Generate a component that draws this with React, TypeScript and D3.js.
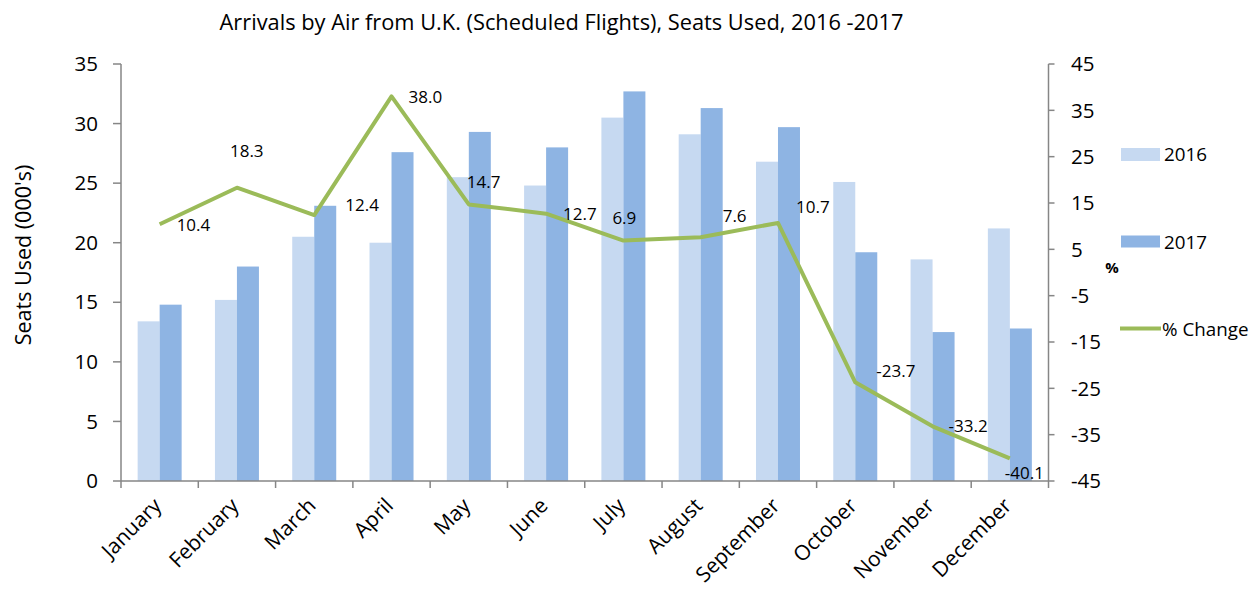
import React from "react";
import * as d3 from "d3";

const months = ["January","February","March","April","May","June","July","August","September","October","November","December"];
const seats2016 = [13.4, 15.2, 20.5, 20.0, 25.5, 24.8, 30.5, 29.1, 26.8, 25.1, 18.6, 21.2];
const seats2017 = [14.8, 18.0, 23.1, 27.6, 29.3, 28.0, 32.7, 31.3, 29.7, 19.2, 12.5, 12.8];
const pctChange = [10.4, 18.3, 12.4, 38.0, 14.7, 12.7, 6.9, 7.6, 10.7, -23.7, -33.2, -40.1];
const leftTicks = [0, 5, 10, 15, 20, 25, 30, 35];
const rightTicks = [-45, -35, -25, -15, -5, 5, 15, 25, 35, 45];
// label offsets (dx, dy) relative to each point: style only
const labelOffsets: [number, number][] = [
  [17, 1], [-7, -37], [31, -10], [17, 1], [-2, -22], [17, 0],
  [-11, -22], [22, -21], [18, -16], [21, -11], [16, 0], [-5, 15],
];

const W = 1259, H = 589;
const FONT = "'Open Sans', 'Noto Sans', sans-serif";
const C2016 = "#C6D9F1";
const C2017 = "#8EB4E3";
const CLINE = "#9BBB59";
const AXIS = "#868686";

export default function App() {
  const x0 = 121, x1 = 1048.5, yTop = 64, yBot = 481;
  const x = d3.scaleBand<string>().domain(months).range([x0, x1]);
  const bw = x.bandwidth();
  const y = d3.scaleLinear().domain([0, 35]).range([yBot, yTop]);
  const yR = d3.scaleLinear().domain([-45, 45]).range([yBot, yTop]);
  const barW = 22;
  const pairOff = (bw - 2 * barW) / 2;
  const line = d3.line<number>()
    .x((_, i) => (x(months[i]) as number) + bw / 2)
    .y((d) => yR(d));

  return (
    <svg width={W} height={H} style={{ position: "absolute", left: 0, top: 0, background: "#fff" }} fontFamily={FONT}>
      <rect width={W} height={H} fill="#fff" />
      <text x={561.5} y={22} dy="0.35em" fontSize={21.8} textAnchor="middle" fill="#000">
        Arrivals by Air from U.K. (Scheduled Flights), Seats Used, 2016 -2017
      </text>

      {/* bars */}
      {months.map((m, i) => {
        const bx = (x(m) as number) + pairOff;
        return (
          <g key={m}>
            <rect x={bx} y={y(seats2016[i])} width={barW} height={yBot - y(seats2016[i])} fill={C2016} />
            <rect x={bx + barW} y={y(seats2017[i])} width={barW} height={yBot - y(seats2017[i])} fill={C2017} />
          </g>
        );
      })}

      {/* left axis */}
      <line x1={x0} x2={x0} y1={yTop} y2={yBot} stroke={AXIS} strokeWidth={1.5} />
      {leftTicks.map((t) => (
        <g key={t}>
          <line x1={x0 - 8} x2={x0} y1={y(t)} y2={y(t)} stroke={AXIS} strokeWidth={1.5} />
          <text x={98} y={y(t)} dy="0.35em" fontSize={20.5} textAnchor="end" fill="#000">{t}</text>
        </g>
      ))}
      <text transform={`translate(31, 255) rotate(-90)`} fontSize={21.5} textAnchor="middle" fill="#000">Seats Used (000's)</text>

      {/* right axis */}
      <line x1={x1} x2={x1} y1={yTop} y2={yBot} stroke={AXIS} strokeWidth={1.5} />
      {rightTicks.map((t) => (
        <g key={t}>
          <line x1={x1} x2={x1 + 6} y1={yR(t)} y2={yR(t)} stroke={AXIS} strokeWidth={1.5} />
          <text x={1071} y={yR(t)} dy="0.35em" fontSize={20.5} textAnchor="start" fill="#000">{t}</text>
        </g>
      ))}
      <text x={1112} y={268} dy="0.35em" fontSize={15} fontWeight="bold" textAnchor="middle" fill="#000">%</text>

      {/* bottom axis */}
      <line x1={x0} x2={x1} y1={yBot} y2={yBot} stroke={AXIS} strokeWidth={1.5} />
      {d3.range(months.length + 1).map((i) => {
        const tx = x0 + i * bw;
        return <line key={i} x1={tx} x2={tx} y1={yBot} y2={yBot + 7} stroke={AXIS} strokeWidth={1.5} />;
      })}
      {months.map((m) => {
        const cx = (x(m) as number) + bw / 2;
        return (
          <text key={m} transform={`translate(${cx + 3}, ${507}) rotate(-45)`} fontSize={21} textAnchor="end" fill="#000">{m}</text>
        );
      })}

      {/* line */}
      <path d={line(pctChange) || ""} fill="none" stroke={CLINE} strokeWidth={4} strokeLinejoin="round" />
      {pctChange.map((v, i) => {
        const cx = (x(months[i]) as number) + bw / 2;
        return (
          <text key={i} x={cx + labelOffsets[i][0]} y={yR(v) + labelOffsets[i][1]} dy="0.35em" fontSize={17} fill="#000">
            {v.toFixed(1)}
          </text>
        );
      })}

      {/* legend */}
      <rect x={1121} y={148} width={39} height={13} fill={C2016} />
      <text x={1164} y={154.5} dy="0.35em" fontSize={18.8} fill="#000">2016</text>
      <rect x={1121} y={235.5} width={39} height={12} fill={C2017} />
      <text x={1164} y={242} dy="0.35em" fontSize={18.8} fill="#000">2017</text>
      <line x1={1120} x2={1161} y1={328.5} y2={328.5} stroke={CLINE} strokeWidth={4} />
      <text x={1162} y={329} dy="0.35em" fontSize={18.8} fill="#000">% Change</text>
    </svg>
  );
}
